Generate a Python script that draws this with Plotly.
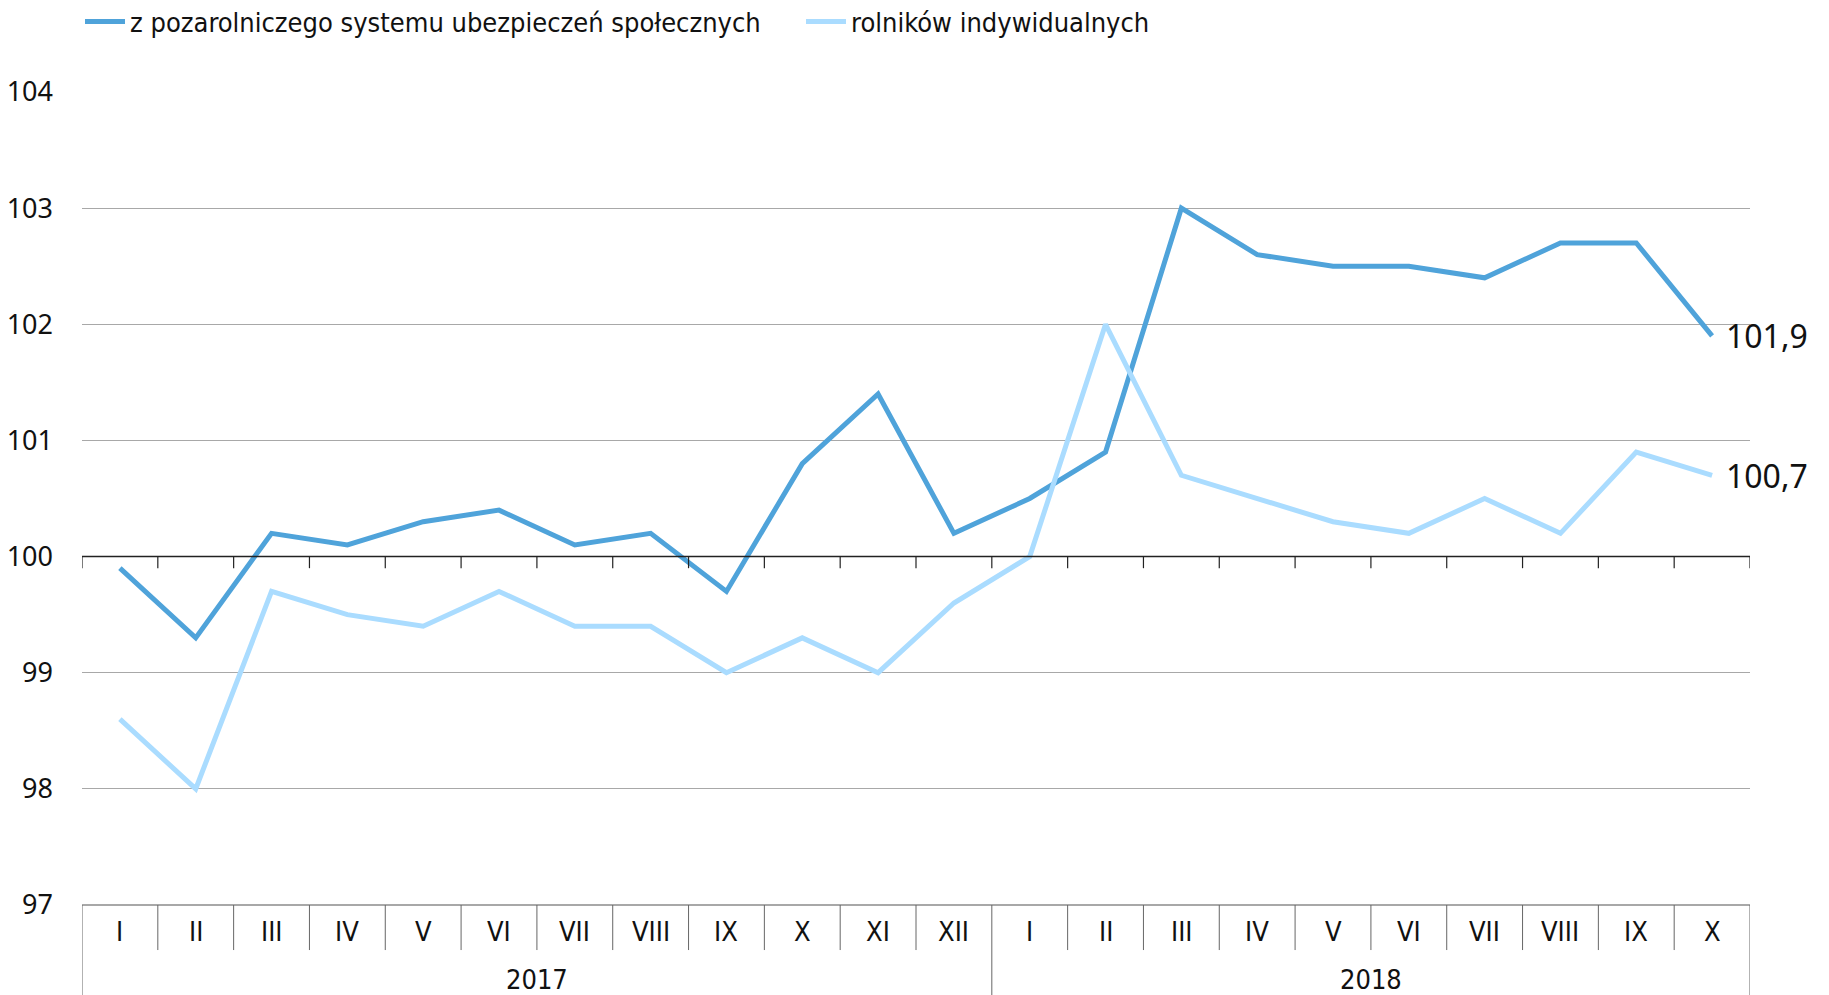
import plotly.graph_objects as go

months = ["I", "II", "III", "IV", "V", "VI", "VII", "VIII", "IX", "X", "XI", "XII",
          "I", "II", "III", "IV", "V", "VI", "VII", "VIII", "IX", "X"]
years = ["2017", "2018"]
year_counts = [12, 10]

pozarolniczy = [99.9, 99.3, 100.2, 100.1, 100.3, 100.4, 100.1, 100.2, 99.7, 100.8, 101.4, 100.2,
                100.5, 100.9, 103.0, 102.6, 102.5, 102.5, 102.4, 102.7, 102.7, 101.9]
rolnicy = [98.6, 98.0, 99.7, 99.5, 99.4, 99.7, 99.4, 99.4, 99.0, 99.3, 99.0, 99.6,
           100.0, 102.0, 100.7, 100.5, 100.3, 100.2, 100.5, 100.2, 100.9, 100.7]

names = ["z pozarolniczego systemu ubezpieczeń społecznych", "rolników indywidualnych"]
colors = ["#4fa3da", "#aadcff"]

COND = "Liberation Sans Narrow, DejaVu Sans Condensed, Roboto Condensed"

x = list(range(len(months)))
fig = go.Figure()
for name, vals, c in [(names[0], pozarolniczy, colors[0]), (names[1], rolnicy, colors[1])]:
    fig.add_trace(go.Scatter(x=x, y=vals, mode="lines", name=name,
                             line=dict(color=c, width=5)))

shapes = []
n = len(months)
# axis line at 100 with ticks
shapes.append(dict(type="line", xref="x", yref="y", x0=-0.5, x1=n - 0.5, y0=100, y1=100,
                   line=dict(color="#222222", width=1.5)))
for i in range(n + 1):
    shapes.append(dict(type="line", xref="x", yref="y", x0=i - 0.5, x1=i - 0.5, y0=100, y1=99.9,
                       line=dict(color="#222222", width=1.2)))
# table
row1 = -0.0554
row2 = -0.115
shapes.append(dict(type="line", xref="x", yref="paper", x0=-0.5, x1=n - 0.5, y0=0, y1=0,
                   line=dict(color="#a8a8a8", width=2)))
bounds = [-0.5]
acc = -0.5
for cnt in year_counts:
    acc += cnt
    bounds.append(acc)
for i in range(n + 1):
    xb = i - 0.5
    bottom = row2 if xb in bounds else row1
    shapes.append(dict(type="line", xref="x", yref="paper", x0=xb, x1=xb, y0=0, y1=bottom,
                       line=dict(color="#666666", width=1)))

annotations = []
for i, m in enumerate(months):
    annotations.append(dict(x=i, y=-0.033, xref="x", yref="paper", text=m, showarrow=False,
                            font=dict(family=COND, size=27, color="#111111"),
                            xanchor="center", yanchor="middle"))
start = 0
for yr, cnt in zip(years, year_counts):
    annotations.append(dict(x=start + (cnt - 1) / 2, y=-0.092, xref="x", yref="paper", text=yr,
                            showarrow=False,
                            font=dict(family=COND, size=27, color="#111111"),
                            xanchor="center", yanchor="middle"))
    start += cnt
for vals in (pozarolniczy, rolnicy):
    annotations.append(dict(x=n - 1, y=vals[-1], xref="x", yref="y",
                            text=f"{vals[-1]:.1f}".replace(".", ","), showarrow=False,
                            xanchor="left", yanchor="middle", xshift=12,
                            font=dict(family="Noto Sans", size=32, color="#111111")))

fig.update_layout(
    width=1829, height=995,
    margin=dict(l=74, r=87, t=84, b=98, autoexpand=False),
    paper_bgcolor="white", plot_bgcolor="white",
    font=dict(family="Noto Sans", color="#111111"),
    showlegend=True,
    legend=dict(orientation="h", xref="container", yref="container",
                x=72 / 1829, xanchor="left", y=1 - 14 / 995, yanchor="middle",
                font=dict(family=COND, size=27, color="#111111"),
                itemwidth=40, entrywidth=666, entrywidthmode="pixels",
                bgcolor="rgba(0,0,0,0)"),
    xaxis=dict(range=[-0.5, n - 0.5], showticklabels=False, showgrid=False, zeroline=False,
               showline=False, fixedrange=True, automargin=False),
    yaxis=dict(range=[97, 104], dtick=1, tick0=97, showgrid=True, gridcolor="#a8a8a8", gridwidth=1,
               zeroline=False, showline=False, ticks="", ticklabelstandoff=28, automargin=False,
               tickfont=dict(family="Noto Sans", size=27, color="#111111")),
    shapes=shapes,
    annotations=annotations,
)

fig.write_html("out.html")
